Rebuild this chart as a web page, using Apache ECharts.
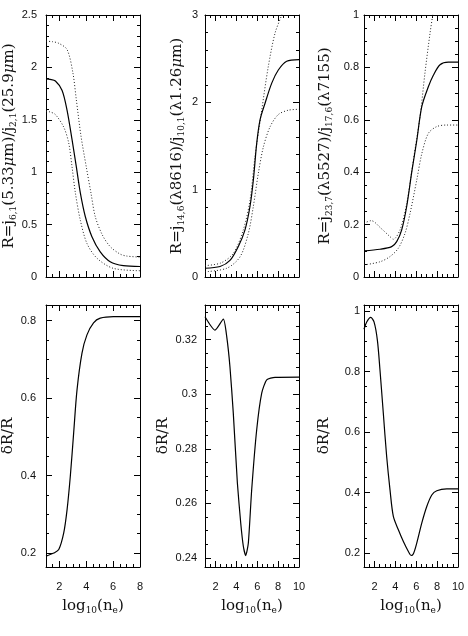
<!DOCTYPE html>
<html>
<head>
<meta charset="utf-8">
<script src="https://cdn.jsdelivr.net/npm/echarts@6/dist/echarts.min.js"></script>
<style>
  html, body { margin: 0; padding: 0; background: #fff; }
  #chart { width: 468px; height: 636px; }
</style>
</head>
<body>
<div id="chart"></div>
<script>
// ---- values (x = log10(ne)) ----
// top row, solid = R, dotted = upper / lower bound
const r1X = [1, 1.3, 1.7, 2.2, 2.57, 2.94, 3.26, 3.56, 3.93, 4.42, 5.04, 5.78, 6.76, 8]
const r1Y = [1.89, 1.885, 1.87, 1.78, 1.59, 1.31, 1.05, 0.8, 0.575, 0.385, 0.24, 0.146, 0.108, 0.1]
const r1HiX = [1, 1.5, 1.95, 2.57, 3.0, 3.26, 3.6, 4.0, 4.35, 4.67, 5.2, 5.78, 6.5, 7.0, 8]
const r1HiY = [2.25, 2.245, 2.23, 2.17, 1.95, 1.69, 1.35, 1.05, 0.8, 0.575, 0.4, 0.29, 0.22, 0.2, 0.19]
const r1LoX = [1, 1.3, 1.7, 2.32, 2.69, 2.94, 3.19, 3.56, 4.05, 4.79, 6.0, 8]
const r1LoY = [1.58, 1.575, 1.55, 1.43, 1.28, 1.05, 0.8, 0.54, 0.32, 0.18, 0.083, 0.06]

const r2X = [1, 2.44, 3.39, 4.19, 4.83, 5.31, 5.63, 5.95, 6.27, 6.75, 7.39, 8.02, 8.82, 10]
const r2Y = [0.1, 0.12, 0.19, 0.35, 0.54, 0.81, 1.11, 1.53, 1.8, 1.99, 2.22, 2.37, 2.47, 2.49]
const r2HiX = [1, 2.5, 3.71, 4.67, 5.31, 5.79, 6.43, 7.06, 7.7, 8.34, 9.0]
const r2HiY = [0.13, 0.16, 0.27, 0.54, 0.88, 1.38, 1.91, 2.41, 2.79, 3.0, 3.25]
const r2LoX = [1, 3.08, 4.35, 5.15, 5.63, 6.11, 6.59, 7.23, 8.02, 8.98, 10]
const r2LoY = [0.06, 0.1, 0.23, 0.5, 0.81, 1.19, 1.49, 1.72, 1.86, 1.91, 1.92]

const r3X = [1, 2.53, 3.65, 4.13, 4.61, 5.09, 5.57, 6.05, 6.53, 7.16, 7.64, 8.28, 9.08, 10]
const r3Y = [0.1, 0.106, 0.116, 0.135, 0.18, 0.27, 0.4, 0.52, 0.65, 0.726, 0.77, 0.81, 0.82, 0.82]
const r3HiX = [1, 1.69, 2.65, 3.49, 3.81, 4.45, 5.09, 5.73, 6.36, 6.84, 7.32, 7.58, 8.0]
const r3HiY = [0.205, 0.215, 0.185, 0.154, 0.144, 0.18, 0.28, 0.447, 0.61, 0.78, 0.93, 1.0, 1.12]
const r3LoX = [1, 2.53, 3.49, 4.29, 4.93, 5.41, 6.05, 6.53, 7.16, 7.96, 8.92, 10]
const r3LoY = [0.046, 0.058, 0.078, 0.11, 0.167, 0.243, 0.37, 0.47, 0.548, 0.574, 0.58, 0.58]

// bottom row, dR/R
const d1X = [1, 1.58, 1.95, 2.32, 2.57, 2.81, 3.06, 3.31, 3.68, 4.05, 4.54, 5.04, 6.02, 8]
const d1Y = [0.192, 0.2, 0.209, 0.252, 0.312, 0.398, 0.51, 0.621, 0.716, 0.763, 0.794, 0.806, 0.81, 0.81]
const d2X = [1, 1.96, 2.76, 3.08, 3.39, 3.71, 4.1, 4.42, 4.67, 4.9, 5.15, 5.47, 5.95, 6.43, 6.91, 7.71, 10]
const d2Y = [0.3284, 0.3235, 0.3275, 0.3211, 0.31, 0.293, 0.2675, 0.2528, 0.2443, 0.2409, 0.2455, 0.265, 0.287, 0.3004, 0.3053, 0.3062, 0.3063]
const d3X = [1, 1.26, 1.64, 1.96, 2.28, 2.53, 2.85, 3.17, 3.49, 3.81, 4.29, 4.77, 5.25, 5.51, 5.73, 6.05, 6.53, 7.01, 7.49, 7.97, 8.92, 10]
const d3Y = [0.94, 0.964, 0.979, 0.964, 0.904, 0.805, 0.662, 0.519, 0.409, 0.321, 0.277, 0.238, 0.205, 0.192, 0.198, 0.233, 0.299, 0.354, 0.392, 0.406, 0.412, 0.412]

// axis ranges and tick steps
const xRanges = [[1, 8], [1, 10], [1, 10]]
const yRanges = [[0, 2.5], [0, 3], [0, 1], [0.164, 0.84], [0.2367, 0.3327], [0.154, 1.02]]
const yMajor = [0.5, 1, 0.2, 0.2, 0.02, 0.2]
const yMinor = [0.1, 0.2, 0.05, 0.05, 0.005, 0.05]
const xMajor = 2
const xMinor = 0.5

const yTitles = [
  'R=j{s|6,1}(5.33{i|μ}m)/j{s|2,1}(25.9{i|μ}m)',
  'R=j{s|14,6}(λ8616)/j{s|10,1}(λ1.26{i|μ}m)',
  'R=j{s|23,7}(λ5527)/j{s|17,6}(λ7155)',
  'δR/R', 'δR/R', 'δR/R'
]
const xTitle = 'log{s|10}(n{s|e})'

// layout
const colLeft = [46, 205, 364]
const rowTop = [15, 305]
const plotW = 94
const plotH = 262
const nameGaps = [24, 19, 30, 26, 33, 31]
const labelMargins = [9, 7, 5, 10, 8, 4]

const serif = 'DejaVu Serif'
const sans = 'Liberation Sans'
const rich = {
  s: { fontFamily: serif, fontSize: 9, lineHeight: 9, verticalAlign: 'bottom', color: '#111' },
  i: { fontFamily: serif, fontSize: 15, fontStyle: 'italic', color: '#111' }
}

function ticks(min, max, step) {
  const out = []
  const a = Math.ceil(min / step - 1e-6)
  const b = Math.floor(max / step + 1e-6)
  for (let k = a; k <= b; k++) out.push(+(k * step).toFixed(4))
  return out
}

function zip(xs, ys) {
  return xs.map((x, k) => [x, ys[k]])
}

const fmt = v => String(+(+v).toFixed(3))
const black = { color: '#000', width: 1 }

const grids = []
const xAxes = []
const yAxes = []

for (let i = 0; i < 6; i++) {
  const col = i % 3
  const row = Math.floor(i / 3)
  grids.push({ left: colLeft[col], top: rowTop[row], width: plotW, height: plotH, outerBoundsMode: 'none' })

  const xr = xRanges[col]
  const xBase = {
    type: 'value', gridIndex: i, min: xr[0], max: xr[1],
    splitLine: { show: false },
    axisLine: { onZero: false, lineStyle: black }
  }
  const xMaj = ticks(xr[0], xr[1], xMajor)
  const xMin = ticks(xr[0], xr[1], xMinor)
  xAxes.push({
    ...xBase, position: 'bottom',
    axisTick: { inside: true, length: 6, customValues: xMaj, lineStyle: black },
    axisLabel: {
      show: row === 1, customValues: xMaj, margin: 14, formatter: fmt,
      fontFamily: sans, fontSize: 11, color: '#111'
    },
    name: row === 1 ? xTitle : '',
    nameLocation: 'middle', nameGap: 30,
    nameTextStyle: { fontFamily: serif, fontSize: 15, lineHeight: 18, color: '#111', rich: rich }
  })
  xAxes.push({ ...xBase, position: 'bottom', axisLine: { show: false, onZero: false },
    axisTick: { inside: true, length: 3, customValues: xMin, lineStyle: black }, axisLabel: { show: false } })
  xAxes.push({ ...xBase, position: 'top',
    axisTick: { inside: true, length: 6, customValues: xMaj, lineStyle: black }, axisLabel: { show: false } })
  xAxes.push({ ...xBase, position: 'top', axisLine: { show: false, onZero: false },
    axisTick: { inside: true, length: 3, customValues: xMin, lineStyle: black }, axisLabel: { show: false } })

  const yr = yRanges[i]
  const yBase = {
    type: 'value', gridIndex: i, min: yr[0], max: yr[1],
    splitLine: { show: false },
    axisLine: { onZero: false, lineStyle: black }
  }
  const yMaj = ticks(yr[0], yr[1], yMajor[i])
  const yMin = ticks(yr[0], yr[1], yMinor[i])
  yAxes.push({
    ...yBase, position: 'left',
    axisTick: { inside: true, length: 6, customValues: yMaj, lineStyle: black },
    axisLabel: {
      customValues: yMaj, margin: labelMargins[i], formatter: fmt,
      fontFamily: sans, fontSize: 11, color: '#111', padding: [7, 0, 0, 0]
    },
    name: yTitles[i], nameLocation: 'middle', nameRotate: 90, nameGap: nameGaps[i],
    nameTextStyle: { fontFamily: serif, fontSize: 15, lineHeight: 18, color: '#111', rich: rich }
  })
  yAxes.push({ ...yBase, position: 'left', axisLine: { show: false, onZero: false },
    axisTick: { inside: true, length: 3, customValues: yMin, lineStyle: black }, axisLabel: { show: false } })
  yAxes.push({ ...yBase, position: 'right',
    axisTick: { inside: true, length: 6, customValues: yMaj, lineStyle: black }, axisLabel: { show: false } })
  yAxes.push({ ...yBase, position: 'right', axisLine: { show: false, onZero: false },
    axisTick: { inside: true, length: 3, customValues: yMin, lineStyle: black }, axisLabel: { show: false } })
}

function line(panel, data, dotted, smooth) {
  return {
    type: 'line',
    xAxisIndex: panel * 4,
    yAxisIndex: panel * 4,
    data: data,
    showSymbol: false,
    smooth: smooth,
    clip: true,
    lineStyle: dotted
      ? { color: '#222', width: 1, type: [1, 2] }
      : { color: '#000', width: 1.2 }
  }
}

const series = [
  line(0, zip(r1HiX, r1HiY), true, 0.3),
  line(0, zip(r1LoX, r1LoY), true, 0.3),
  line(0, zip(r1X, r1Y), false, 0.3),
  line(1, zip(r2HiX, r2HiY), true, 0.3),
  line(1, zip(r2LoX, r2LoY), true, 0.3),
  line(1, zip(r2X, r2Y), false, 0.3),
  line(2, zip(r3HiX, r3HiY), true, 0.3),
  line(2, zip(r3LoX, r3LoY), true, 0.3),
  line(2, zip(r3X, r3Y), false, 0.3),
  line(3, zip(d1X, d1Y), false, 0.3),
  line(4, zip(d2X, d2Y), false, 0.2),
  line(5, zip(d3X, d3Y), false, 0.3)
]

const chart = echarts.init(document.getElementById('chart'))
chart.setOption({
  animation: false,
  backgroundColor: '#fff',
  grid: grids,
  xAxis: xAxes,
  yAxis: yAxes,
  series: series
})
</script>
</body>
</html>
